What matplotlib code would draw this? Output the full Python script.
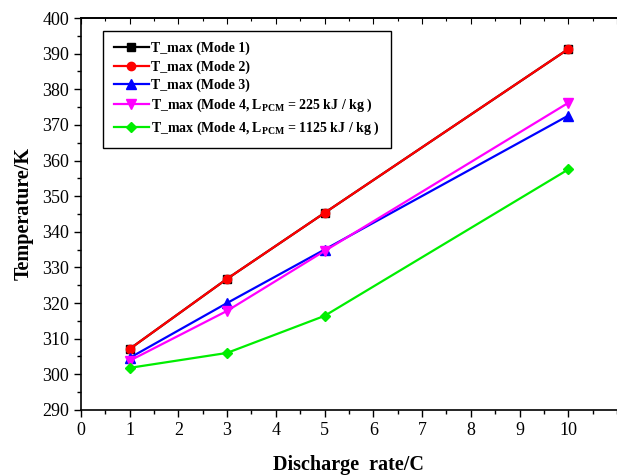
import matplotlib.pyplot as plt
from matplotlib.ticker import MultipleLocator

plt.rcParams['font.family'] = 'Liberation Serif'
plt.rcParams['mathtext.fontset'] = 'custom'
plt.rcParams['mathtext.rm'] = 'Liberation Serif'
plt.rcParams['mathtext.bf'] = 'Liberation Serif:bold'

# data
rate = [1, 3, 5, 10]
mode1 = [307.1, 326.8, 345.3, 391.3]
mode2 = [307.1, 326.8, 345.3, 391.3]
mode3 = [304.6, 320.0, 335.0, 372.6]
mode4_225 = [303.8, 317.8, 334.6, 376.2]
mode4_1125 = [301.8, 306.0, 316.4, 357.5]

labels = ['T_max (Mode 1)', 'T_max (Mode 2)', 'T_max (Mode 3)',
          r'T_max (Mode 4, L$_{\mathbf{PCM}}$ = 225 kJ / kg )',
          r'T_max (Mode 4, L$_{\mathbf{PCM}}$ = 1125 kJ / kg )']

fig = plt.figure(figsize=(6.17, 4.75), dpi=100)
ax = fig.add_axes([0.131, 0.137, 0.869, 0.825])

ax.plot(rate, mode1, color='black', marker='s', markersize=6, linewidth=1.6, label=labels[0])
ax.plot(rate, mode2, color='red', marker='o', markersize=6, linewidth=1.6, label=labels[1])
ax.plot(rate, mode3, color='blue', marker='^', markersize=6.5, linewidth=1.6, label=labels[2])
ax.plot(rate, mode4_225, color='magenta', marker='v', markersize=6.5, linewidth=1.6, label=labels[3])
ax.plot(rate, mode4_1125, color='#00ee00', marker='D', markersize=5.5, linewidth=1.6, label=labels[4])

ax.set_xlim(0, 11)
ax.set_ylim(290, 400)
ax.set_xticks(range(0, 11))
ax.xaxis.set_minor_locator(MultipleLocator(0.5))
ax.yaxis.set_major_locator(MultipleLocator(10))
ax.yaxis.set_minor_locator(MultipleLocator(5))

ax.tick_params(axis='both', which='both', direction='out', labelsize=13)
ax.tick_params(which='major', length=5, width=1)
ax.tick_params(which='minor', length=3, width=1)
ax.spines['right'].set_visible(False)
for s in ['left', 'bottom', 'top']:
    ax.spines[s].set_linewidth(1.2)

# inward ticks along the top edge
top = ax.secondary_xaxis('top')
top.set_xticks(range(0, 12))
top.xaxis.set_minor_locator(MultipleLocator(0.5))
top.tick_params(which='both', direction='in', labeltop=False)
top.tick_params(which='major', length=4, width=0.8)
top.tick_params(which='minor', length=2, width=0.8)
top.spines['top'].set_linewidth(1.2)

ax.set_xlabel('Discharge  rate/C', fontsize=14.5, fontweight='bold', labelpad=12)
ax.set_ylabel('Temperature/K', fontsize=14.5, fontweight='bold', labelpad=6)

leg = ax.legend(loc='upper left', bbox_to_anchor=(0.028, 0.985), fancybox=False,
                edgecolor='black', framealpha=1, prop={'weight': 'bold', 'size': 10},
                handlelength=2.5, labelspacing=0.35, borderpad=0.8, handletextpad=0.2)
leg.get_frame().set_linewidth(1.0)

fig.savefig('out.png', dpi=100)
